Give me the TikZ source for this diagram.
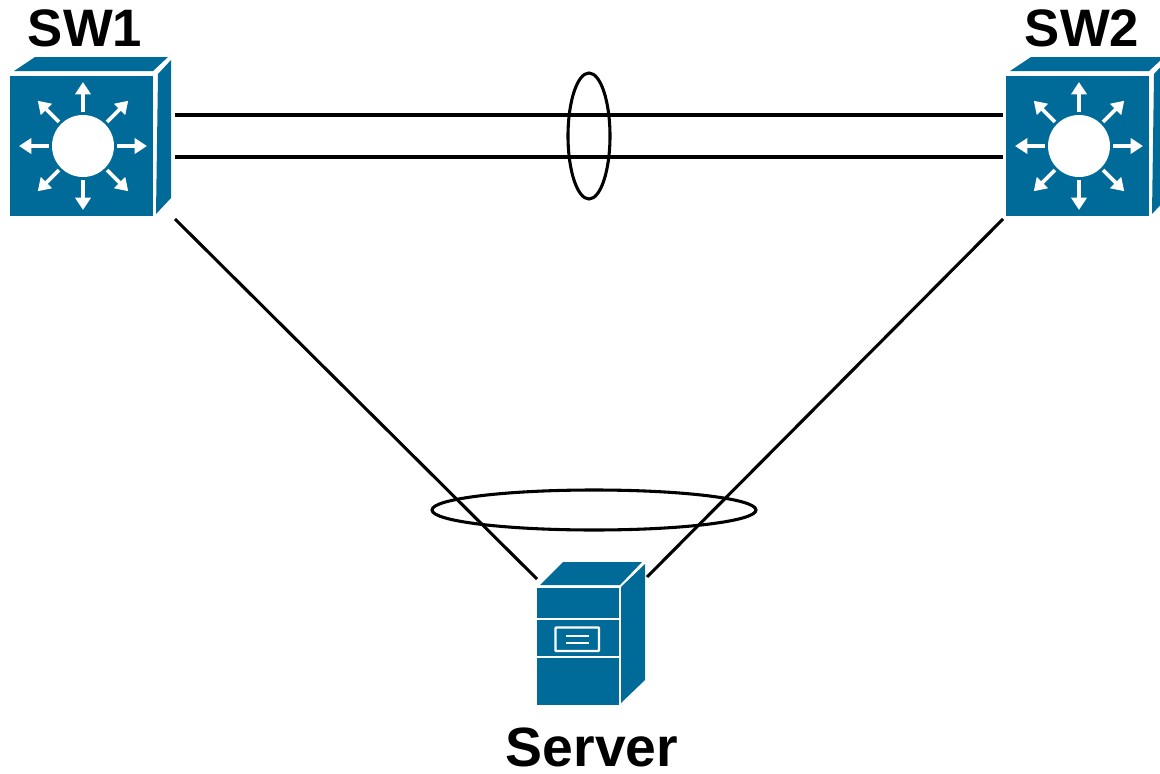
\documentclass[tikz,border=0pt]{standalone}
\usepackage{fontspec}
\setmainfont{Liberation Sans}
\usetikzlibrary{arrows.meta}
\definecolor{cisco}{RGB}{0,107,153}
\tikzset{
  x=0.02cm,y=-0.02cm,
  link/.style={draw=black,line width=1.75pt},
  ring/.style={draw=black,line width=1.75pt,fill=none},
  face/.style={fill=cisco,draw=none},
  hair/.style={draw=white,line width=1.4pt},
  ray/.style={draw=white,line width=2.1pt,-{Triangle[width=8.6pt,length=7pt]}},
  lbl/.style={font=\fontsize{30}{30}\selectfont\bfseries,text=black,inner sep=0pt,anchor=base},
  switchicon/.pic={
    \fill[face] (0,0) rectangle (143,140);
    \fill[face] (4,-5) -- (25,-19) -- (158,-19) -- (143,-5) -- cycle;
    \fill[face] (148,-2) -- (161,-16) -- (161,122) -- (146,138) -- cycle;
    \fill[white] (73,70) circle[radius=31];
    \foreach \a in {0,45,...,315}
      \draw[ray] (73,70) ++(\a:34) -- ++(\a:30);
  },
  servericon/.pic={
    \fill[face] (0,0) rectangle (82,117);
    \fill[face] (3,-3) -- (26,-26) -- (105,-26) -- (83,-3) -- cycle;
    \fill[face] (84,-1) -- (108,-24) -- (108,92) -- (84,115) -- cycle;
    \draw[hair] (0,31) -- (82,31) (0,69) -- (82,69);
    \draw[hair,rounded corners=0.5pt] (18.500,39.500) rectangle (62,63);
    \draw[hair] (29,48) -- (52,48) (29,55) -- (52,55);
  }
}
\begin{document}
\begin{tikzpicture}
\useasboundingbox (0,0) rectangle (1160,774);
\pic at (10,76) {switchicon};
\pic at (1006,76) {switchicon};
\pic at (537,588) {servericon};
\node[lbl] (sw1) at (85,47) {SW1};
\node[lbl] (sw2) at (1082,47) {SW2};
\node[lbl,font=\fontsize{31.5}{31.5}\selectfont\bfseries] (srv) at (592,766) {Server};
\coordinate (a1) at (175,115);
\coordinate (b1) at (1003,115);
\coordinate (a2) at (175,157);
\coordinate (b2) at (1003,157);
\coordinate (a3) at (175,219);
\coordinate (c3) at (537,579);
\coordinate (b4) at (1003,219);
\coordinate (c4) at (647,577);
\draw[link] (a1) -- (b1);
\draw[link] (a2) -- (b2);
\draw[link] (a3) -- (c3);
\draw[link] (b4) -- (c4);
\draw[ring] (589,136) ellipse[x radius=21,y radius=63];
\draw[ring] (594,510) ellipse[x radius=162,y radius=20];
\end{tikzpicture}
\end{document}
